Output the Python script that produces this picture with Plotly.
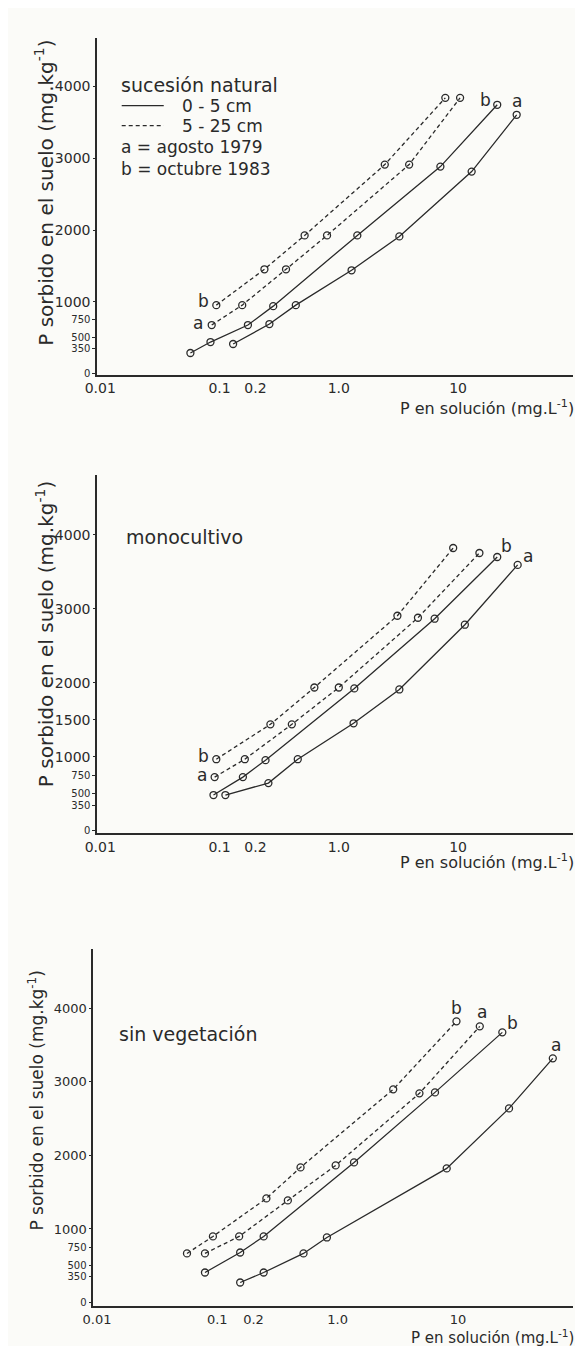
import math
import plotly.graph_objects as go

# ---------------- data (P en solución mg/L, P sorbido mg/kg) ----------------
# Panel 1: sucesión natural
p1_a_05_x = [0.130, 0.262, 0.436, 1.28, 3.22, 13.0, 31.0]
p1_a_05_y = [416, 693, 956, 1440, 1911, 2812, 3601]
p1_b_05_x = [0.057, 0.084, 0.173, 0.282, 1.43, 7.11, 21.3]
p1_b_05_y = [291, 443, 679, 942, 1925, 2881, 3740]
p1_a_525_x = [0.086, 0.155, 0.361, 0.797, 3.89, 10.4]
p1_a_525_y = [679, 956, 1454, 1925, 2909, 3837]
p1_b_525_x = [0.094, 0.238, 0.517, 2.43, 7.82]
p1_b_525_y = [956, 1454, 1925, 2909, 3837]

# Panel 2: monocultivo
p2_a_05_x = [0.112, 0.257, 0.453, 1.33, 3.22, 11.4, 31.6]
p2_a_05_y = [485, 646, 969, 1454, 1911, 2786, 3594]
p2_b_05_x = [0.089, 0.157, 0.243, 1.35, 6.36, 21.3]
p2_b_05_y = [485, 727, 956, 1925, 2867, 3701]
p2_a_525_x = [0.091, 0.163, 0.404, 1.0, 4.61, 15.1]
p2_a_525_y = [727, 969, 1440, 1938, 2880, 3755]
p2_b_525_x = [0.094, 0.267, 0.624, 3.10, 9.10]
p2_b_525_y = [969, 1440, 1938, 2907, 3822]

# Panel 3: sin vegetación
p3_a_05_x = [0.155, 0.243, 0.521, 0.815, 8.07, 26.6, 61.5]
p3_a_05_y = [272, 408, 667, 884, 1823, 2639, 3320]
p3_b_05_x = [0.079, 0.155, 0.243, 1.37, 6.45, 23.4]
p3_b_05_y = [408, 680, 898, 1905, 2857, 3673]
p3_a_525_x = [0.079, 0.152, 0.386, 0.964, 4.79, 15.2]
p3_a_525_y = [667, 898, 1388, 1864, 2844, 3755]
p3_b_525_x = [0.056, 0.092, 0.256, 0.492, 2.90, 9.73]
p3_b_525_y = [667, 898, 1415, 1837, 2898, 3823]

x_tickvals = [0.01, 0.1, 0.2, 1.0, 10, 100]
x_ticktext = ["0.01", "0.1", "0.2", "1.0", "10", "100"]
y_ticks_low = [0, 350, 500, 750]
y_ticks_high_1 = [1000, 2000, 3000, 4000]
y_ticks_high_2 = [1000, 1500, 2000, 3000, 4000]
y_ticks_high_3 = [1000, 2000, 3000, 4000]

panel_titles = ["sucesión natural", "monocultivo", "sin vegetación"]
legend_texts = ["0 - 5 cm", "5 - 25 cm", "a = agosto 1979", "b = octubre 1983"]
y_title = "P sorbido en el suelo (mg.kg<sup>-1</sup>)"
x_title = "P en solución (mg.L<sup>-1</sup>)"

# ---------------- figure ----------------
W, H = 583, 1346
INK = "#2a2a2a"
BG = "#fbfbf8"
FONT = "DejaVu Sans"


def px_x(p):
    return p / W


def px_y(p):
    return 1 - p / H


fig = go.Figure()

panels = [
    dict(ax="", data=[(p1_a_05_x, p1_a_05_y, "solid"), (p1_b_05_x, p1_b_05_y, "solid"),
                      (p1_a_525_x, p1_a_525_y, "dash"), (p1_b_525_x, p1_b_525_y, "dash")]),
    dict(ax="2", data=[(p2_a_05_x, p2_a_05_y, "solid"), (p2_b_05_x, p2_b_05_y, "solid"),
                       (p2_a_525_x, p2_a_525_y, "dash"), (p2_b_525_x, p2_b_525_y, "dash")]),
    dict(ax="3", data=[(p3_a_05_x, p3_a_05_y, "solid"), (p3_b_05_x, p3_b_05_y, "solid"),
                       (p3_a_525_x, p3_a_525_y, "dash"), (p3_b_525_x, p3_b_525_y, "dash")]),
]

for p in panels:
    for xs, ys, d in p["data"]:
        fig.add_trace(go.Scatter(
            x=xs, y=ys, mode="lines+markers",
            xaxis="x" + p["ax"], yaxis="y" + p["ax"],
            line=dict(color=INK, width=1.3, dash=("solid" if d == "solid" else "4px,3px")),
            marker=dict(symbol="circle-open", size=7, color=INK, line=dict(width=1.3, color=INK)),
            showlegend=False, hoverinfo="skip",
        ))

# axis geometry (pixels): left, right, top, bottom
geo = [(78, 565, 30, 368), (78, 565, 469, 828), (74, 565, 945, 1303)]
yranges = [[-10, 4670], [-27, 4805], [-50, 4800]]
xranges = [[-2.025, 1.967], [-2.025, 1.967], [-2.03, 1.96]]
yhigh = [y_ticks_high_1, y_ticks_high_2, y_ticks_high_3]

layout = dict(
    width=W, height=H, margin=dict(l=0, r=0, t=0, b=0),
    paper_bgcolor=BG, plot_bgcolor=BG,
    font=dict(family=FONT, color=INK),
    showlegend=False,
)
for i, (l, r, t, b) in enumerate(geo):
    sfx = "" if i == 0 else str(i + 1)
    over = str(i + 4)
    layout["xaxis" + sfx] = dict(
        type="log", range=xranges[i], domain=[px_x(l), px_x(r)],
        anchor="y" + sfx, showgrid=False, zeroline=False,
        showline=True, linecolor=INK, linewidth=1.6,
        tickvals=x_tickvals, ticktext=x_ticktext, ticks="",
        tickfont=dict(size=14 if i < 2 else 13, family=FONT, color=INK),
    )
    # main y axis: line + small low ticks
    layout["yaxis" + sfx] = dict(
        range=yranges[i], domain=[px_y(b), px_y(t)],
        anchor="x" + sfx, showgrid=False, zeroline=False,
        showline=True, linecolor=INK, linewidth=1.6,
        tickvals=y_ticks_low, ticks="outside", ticklen=3, tickcolor=INK,
        tickfont=dict(size=10, family=FONT, color=INK),
    )
    # overlay y axis with the larger upper tick labels
    layout["yaxis" + over] = dict(
        range=yranges[i], overlaying="y" + sfx, anchor="x" + sfx, side="left",
        showgrid=False, zeroline=False, showline=False,
        tickvals=yhigh[i], ticks="outside", ticklen=3, tickcolor=INK,
        tickfont=dict(size=14 if i < 2 else 13, family=FONT, color=INK),
    )
    fig.add_trace(go.Scatter(x=[None], y=[None], xaxis="x" + sfx, yaxis="y" + over,
                             mode="markers", showlegend=False, hoverinfo="skip"))
fig.update_layout(**layout)

ann = []
# y titles
for cx, cy, fs in [(24, 185, 20), (24, 628, 20), (15, 1097, 17)]:
    ann.append(dict(text=y_title, xref="paper", yref="paper", x=px_x(cx), y=px_y(cy),
                    textangle=-90, showarrow=False, font=dict(size=fs, family=FONT, color=INK),
                    xanchor="center", yanchor="middle"))
# x titles
for cy, fs in [(401, 16), (857, 16), (1334, 15)]:
    ann.append(dict(text=x_title, xref="paper", yref="paper", x=px_x(568), y=px_y(cy),
                    showarrow=False, font=dict(size=fs, family=FONT, color=INK),
                    xanchor="right", yanchor="middle"))
# panel titles
for txt, (cx, cy) in zip(panel_titles, [(100, 77), (105, 531), (98, 1030)]):
    ann.append(dict(text=txt, xref="paper", yref="paper", x=px_x(cx), y=px_y(cy),
                    showarrow=False, font=dict(size=19, family=FONT, color=INK),
                    xanchor="left", yanchor="middle"))
# legend text (panel 1)
for txt, (cx, cy) in zip(legend_texts, [(163, 98), (163, 118), (100, 140), (100, 162)]):
    ann.append(dict(text=txt, xref="paper", yref="paper", x=px_x(cx), y=px_y(cy),
                    showarrow=False, font=dict(size=17, family=FONT, color=INK),
                    xanchor="left", yanchor="middle"))


# curve labels anchored at data points
def lab(t, ax, x, y, dx, dy):
    ann.append(dict(text=t, xref="x" + ax, yref="y" + ax, x=math.log10(x), y=y,
                    xshift=dx, yshift=dy, showarrow=False,
                    font=dict(size=17, family=FONT, color=INK)))


lab("b", "", p1_b_525_x[0], p1_b_525_y[0], -13, 4)
lab("a", "", p1_a_525_x[0], p1_a_525_y[0], -14, 2)
lab("b", "", p1_b_05_x[-1], p1_b_05_y[-1], -12, 5)
lab("a", "", p1_a_05_x[-1], p1_a_05_y[-1], 0, 14)

lab("b", "2", p2_b_525_x[0], p2_b_525_y[0], -13, 3)
lab("a", "2", p2_a_525_x[0], p2_a_525_y[0], -13, 2)
lab("b", "2", p2_b_05_x[-1], p2_b_05_y[-1], 9, 11)
lab("a", "2", p2_a_05_x[-1], p2_a_05_y[-1], 10, 9)

lab("b", "3", p3_b_525_x[-1], p3_b_525_y[-1], 0, 13)
lab("a", "3", p3_a_525_x[-1], p3_a_525_y[-1], 2, 14)
lab("b", "3", p3_b_05_x[-1], p3_b_05_y[-1], 10, 9)
lab("a", "3", p3_a_05_x[-1], p3_a_05_y[-1], 3, 13)

fig.update_layout(annotations=ann)

# legend line samples (panel 1)
fig.update_layout(shapes=[
    dict(type="line", xref="paper", yref="paper", x0=px_x(103), x1=px_x(146), y0=px_y(98), y1=px_y(98),
         line=dict(color=INK, width=1.3)),
    dict(type="line", xref="paper", yref="paper", x0=px_x(103), x1=px_x(146), y0=px_y(118), y1=px_y(118),
         line=dict(color=INK, width=1.3, dash="4px,3px")),
])

fig.write_html("out.html")
